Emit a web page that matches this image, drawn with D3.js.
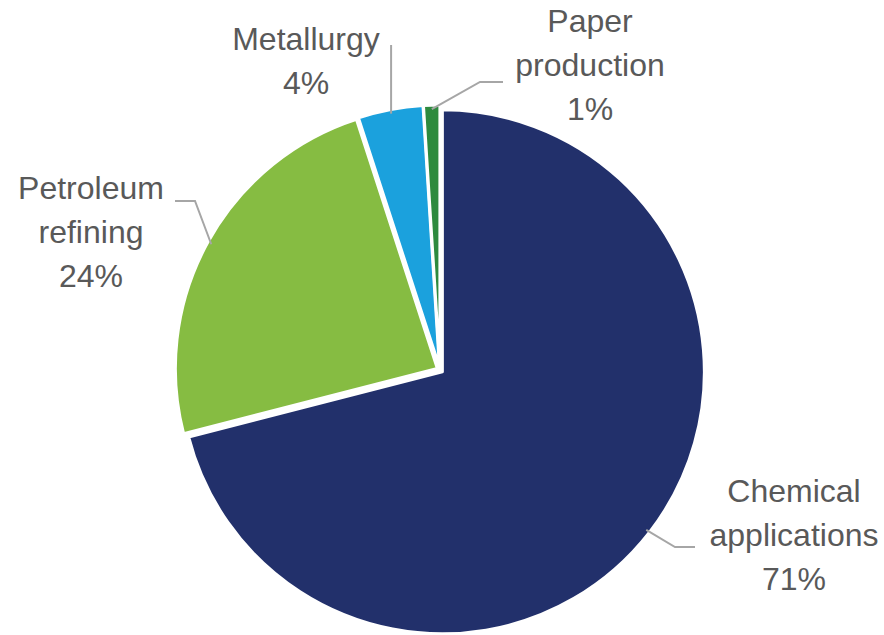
<!DOCTYPE html>
<html>
<head>
<meta charset="utf-8">
<script src="https://cdn.jsdelivr.net/npm/d3@7"></script>
<style>
  body { margin: 0; background: #fff; }
  svg { display: block; }
  .lbl { font-family: "Liberation Sans", Arial, sans-serif; font-size: 32px; fill: #595959; }
</style>
</head>
<body>
<div id="chart"></div>
<script>
// data
const categories = ["Chemical applications", "Petroleum refining", "Metallurgy", "Paper production"];
const shares = [71, 24, 4, 1];
const labelLines = [["Chemical", "applications", "71%"], ["Petroleum", "refining", "24%"], ["Metallurgy", "4%"], ["Paper", "production", "1%"]];
const colors = ["#22306b", "#86bc42", "#1ba1dd", "#2e8a3e"];

// label placement: text centre, first baseline, leader elbow and end
const labelPos = [
  { x: 794, y: 502, elbow: [675, 547], end: [695, 547] },
  { x: 91, y: 199, elbow: [195, 201], end: [175, 201] },
  { x: 306, y: 50, elbow: null, end: [391, 45] },
  { x: 590, y: 32, elbow: [480, 82], end: [503, 82] }
];

const w = 884, h = 635;
const cx = 440, cy = 370, r = 262;
const explode = 3;
const lineH = 44;

const svg = d3.select("#chart").append("svg")
  .attr("width", w)
  .attr("height", h);

const pie = d3.pie().sort(null).value(d => d)(shares);
const arc = d3.arc().innerRadius(0).outerRadius(r);
const edge = d3.arc().innerRadius(r - 4).outerRadius(r - 4);

function shift(d) {
  const a = (d.startAngle + d.endAngle) / 2;
  return [explode * Math.sin(a), -explode * Math.cos(a)];
}

const g = svg.append("g").attr("transform", "translate(" + cx + "," + cy + ")");

g.selectAll("path.slice")
  .data(pie)
  .enter()
  .append("path")
  .attr("class", "slice")
  .attr("d", arc)
  .attr("transform", d => "translate(" + shift(d).join(",") + ")")
  .attr("fill", (d, i) => colors[i])
  .attr("stroke", "#fff")
  .attr("stroke-width", 3)
  .attr("stroke-linejoin", "round");

// leader lines
svg.selectAll("polyline.leader")
  .data(pie)
  .enter()
  .append("polyline")
  .attr("class", "leader")
  .attr("points", (d, i) => {
    const p = edge.centroid(d);
    const s = shift(d);
    const start = [cx + p[0] + s[0], cy + p[1] + s[1]];
    const lp = labelPos[i];
    let pts = [start];
    if (lp.elbow) pts.push(lp.elbow, lp.end);
    else pts.push([start[0], lp.end[1]]);
    return pts.map(q => q.join(",")).join(" ");
  })
  .attr("fill", "none")
  .attr("stroke", "#a6a6a6")
  .attr("stroke-width", 2);

// labels
const labels = svg.selectAll("text.lbl")
  .data(categories)
  .enter()
  .append("text")
  .attr("class", "lbl")
  .attr("text-anchor", "middle")
  .attr("x", (d, i) => labelPos[i].x)
  .attr("y", (d, i) => labelPos[i].y);

labels.each(function(d, i) {
  d3.select(this).selectAll("tspan")
    .data(labelLines[i])
    .enter()
    .append("tspan")
    .attr("x", labelPos[i].x)
    .attr("dy", (t, j) => j === 0 ? 0 : lineH)
    .text(t => t);
});
</script>
</body>
</html>
